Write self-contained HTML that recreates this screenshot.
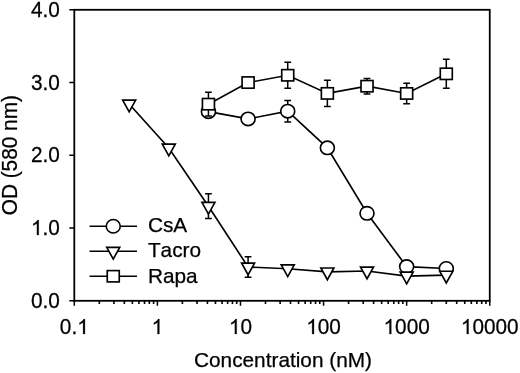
<!DOCTYPE html>
<html><head><meta charset="utf-8"><title>OD vs Concentration</title>
<style>
html,body{margin:0;padding:0;background:#fff;}
svg{display:block;will-change:transform;transform:translateZ(0);}
text{font-family:"Liberation Sans",sans-serif;font-size:20.8px;fill:#000;stroke:#000;stroke-width:0.25px;font-kerning:none;}
.h{fill:none;stroke:none;}
.one{fill:#000;stroke:#000;stroke-width:26;}
</style></head><body>
<svg width="520" height="373" viewBox="0 0 520 373">
<rect width="520" height="373" fill="#fff"/>
<polyline fill="none" stroke="#000" stroke-width="1.65" points="208.44,111.65 248.08,118.93 287.73,111.21 327.37,147.81 367.02,213.28 406.66,266.61 446.30,268.50"/>
<path fill="none" stroke="#000" stroke-width="1.5" d="M287.73 100.45V121.98M284.33 100.45h6.8M284.33 121.98h6.8"/>
<ellipse cx="208.44" cy="111.65" rx="7.0" ry="6.72" fill="#fff" stroke="#000" stroke-width="1.65"/>
<ellipse cx="248.08" cy="118.93" rx="7.0" ry="6.72" fill="#fff" stroke="#000" stroke-width="1.65"/>
<ellipse cx="287.73" cy="111.21" rx="7.0" ry="6.72" fill="#fff" stroke="#000" stroke-width="1.65"/>
<ellipse cx="327.37" cy="147.81" rx="7.0" ry="6.72" fill="#fff" stroke="#000" stroke-width="1.65"/>
<ellipse cx="367.02" cy="213.28" rx="7.0" ry="6.72" fill="#fff" stroke="#000" stroke-width="1.65"/>
<ellipse cx="406.66" cy="266.61" rx="7.0" ry="6.72" fill="#fff" stroke="#000" stroke-width="1.65"/>
<ellipse cx="446.30" cy="268.50" rx="7.0" ry="6.72" fill="#fff" stroke="#000" stroke-width="1.65"/>
<polyline fill="none" stroke="#000" stroke-width="1.65" points="129.15,104.01 168.80,148.03 208.44,206.23 248.08,266.97 287.73,268.79 327.37,271.92 367.02,270.97 406.66,276.06 446.30,275.19"/>
<path fill="none" stroke="#000" stroke-width="1.5" d="M208.44 193.86V218.59M205.04 193.86h6.8M205.04 218.59h6.8"/>
<path fill="none" stroke="#000" stroke-width="1.5" d="M248.08 256.79V277.16M244.68 256.79h6.8M244.68 277.16h6.8"/>
<path d="M122.65 100.11h13.0l-6.5 11.7z" fill="#fff" stroke="#000" stroke-width="1.65"/>
<path d="M162.30 144.12h13.0l-6.5 11.7z" fill="#fff" stroke="#000" stroke-width="1.65"/>
<path d="M201.94 202.33h13.0l-6.5 11.7z" fill="#fff" stroke="#000" stroke-width="1.65"/>
<path d="M241.58 263.07h13.0l-6.5 11.7z" fill="#fff" stroke="#000" stroke-width="1.65"/>
<path d="M281.23 264.89h13.0l-6.5 11.7z" fill="#fff" stroke="#000" stroke-width="1.65"/>
<path d="M320.87 268.02h13.0l-6.5 11.7z" fill="#fff" stroke="#000" stroke-width="1.65"/>
<path d="M360.52 267.07h13.0l-6.5 11.7z" fill="#fff" stroke="#000" stroke-width="1.65"/>
<path d="M400.16 272.17h13.0l-6.5 11.7z" fill="#fff" stroke="#000" stroke-width="1.65"/>
<path d="M439.80 271.29h13.0l-6.5 11.7z" fill="#fff" stroke="#000" stroke-width="1.65"/>
<polyline fill="none" stroke="#000" stroke-width="1.65" points="208.44,104.16 248.08,82.55 287.73,75.28 327.37,93.39 367.02,86.19 406.66,93.46 446.30,73.82"/>
<path fill="none" stroke="#000" stroke-width="1.5" d="M208.44 92.37V115.94M205.04 92.37h6.8M205.04 115.94h6.8"/>
<path fill="none" stroke="#000" stroke-width="1.5" d="M287.73 62.18V88.37M284.33 62.18h6.8M284.33 88.37h6.8"/>
<path fill="none" stroke="#000" stroke-width="1.5" d="M327.37 80.29V106.48M323.97 80.29h6.8M323.97 106.48h6.8"/>
<path fill="none" stroke="#000" stroke-width="1.5" d="M367.02 78.48V93.90M363.62 78.48h6.8M363.62 93.90h6.8"/>
<path fill="none" stroke="#000" stroke-width="1.5" d="M406.66 83.13V103.79M403.26 83.13h6.8M403.26 103.79h6.8"/>
<path fill="none" stroke="#000" stroke-width="1.5" d="M446.30 59.27V88.37M442.90 59.27h6.8M442.90 88.37h6.8"/>
<rect x="202.44" y="98.51" width="12.0" height="11.3" fill="#fff" stroke="#000" stroke-width="1.65"/>
<rect x="242.08" y="76.90" width="12.0" height="11.3" fill="#fff" stroke="#000" stroke-width="1.65"/>
<rect x="281.73" y="69.62" width="12.0" height="11.3" fill="#fff" stroke="#000" stroke-width="1.65"/>
<rect x="321.37" y="87.74" width="12.0" height="11.3" fill="#fff" stroke="#000" stroke-width="1.65"/>
<rect x="361.02" y="80.54" width="12.0" height="11.3" fill="#fff" stroke="#000" stroke-width="1.65"/>
<rect x="400.66" y="87.81" width="12.0" height="11.3" fill="#fff" stroke="#000" stroke-width="1.65"/>
<rect x="440.30" y="68.17" width="12.0" height="11.3" fill="#fff" stroke="#000" stroke-width="1.65"/>
<rect x="74.30" y="9.80" width="415.45" height="291.00" fill="none" stroke="#000" stroke-width="1.8"/>
<path d="M69.30 300.80H74.30M69.30 228.05H74.30M69.30 155.30H74.30M69.30 82.55H74.30M69.30 9.80H74.30M74.30 300.80V305.80M157.39 300.80V305.80M240.48 300.80V305.80M323.57 300.80V305.80M406.66 300.80V305.80M489.75 300.80V305.80" stroke="#000" stroke-width="1.5" fill="none"/>
<path d="M99.31 300.80V304.10M113.94 300.80V304.10M124.33 300.80V304.10M132.38 300.80V304.10M138.96 300.80V304.10M144.52 300.80V304.10M149.34 300.80V304.10M153.59 300.80V304.10M182.40 300.80V304.10M197.03 300.80V304.10M207.42 300.80V304.10M215.47 300.80V304.10M222.05 300.80V304.10M227.61 300.80V304.10M232.43 300.80V304.10M236.68 300.80V304.10M265.49 300.80V304.10M280.12 300.80V304.10M290.51 300.80V304.10M298.56 300.80V304.10M305.14 300.80V304.10M310.70 300.80V304.10M315.52 300.80V304.10M319.77 300.80V304.10M348.58 300.80V304.10M363.21 300.80V304.10M373.60 300.80V304.10M381.65 300.80V304.10M388.23 300.80V304.10M393.79 300.80V304.10M398.61 300.80V304.10M402.86 300.80V304.10M431.67 300.80V304.10M446.30 300.80V304.10M456.69 300.80V304.10M464.74 300.80V304.10M471.32 300.80V304.10M476.88 300.80V304.10M481.70 300.80V304.10M485.95 300.80V304.10" stroke="#000" stroke-width="1.6" fill="none"/>
<path d="M89.5 226.25H137" stroke="#000" stroke-width="1.65"/>
<ellipse cx="113.25" cy="226.25" rx="7.0" ry="6.72" fill="#fff" stroke="#000" stroke-width="1.65"/>
<path d="M89.5 251.25H137" stroke="#000" stroke-width="1.65"/>
<path d="M106.75 247.35h13.0l-6.5 11.7z" fill="#fff" stroke="#000" stroke-width="1.65"/>
<path d="M89.5 276.25H137" stroke="#000" stroke-width="1.65"/>
<rect x="107.25" y="270.60" width="12.0" height="11.3" fill="#fff" stroke="#000" stroke-width="1.65"/>
<text transform="translate(59.90,307.75) scale(1.000,1.030)" text-anchor="end">0.0</text>
<path class="one" transform="translate(30.99,235.00) scale(0.01016,-0.01016)" d="M763 0H583V1147Q518 1085 412.5 1023T223 930V1104Q374 1175 487 1276T647 1472H763Z"/>
<text transform="translate(59.90,235.00) scale(1.000,1.030)" text-anchor="end"><tspan class="h">1</tspan>.0</text>
<text transform="translate(59.90,162.25) scale(1.000,1.030)" text-anchor="end">2.0</text>
<text transform="translate(59.90,89.50) scale(1.000,1.030)" text-anchor="end">3.0</text>
<text transform="translate(59.90,16.75) scale(1.000,1.030)" text-anchor="end">4.0</text>
<path class="one" transform="translate(77.19,334.00) scale(0.01016,-0.01016)" d="M763 0H583V1147Q518 1085 412.5 1023T223 930V1104Q374 1175 487 1276T647 1472H763Z"/>
<text transform="translate(74.30,334.00) scale(1.000,1.030)" text-anchor="middle">0.<tspan class="h">1</tspan></text>
<path class="one" transform="translate(151.61,334.00) scale(0.01016,-0.01016)" d="M763 0H583V1147Q518 1085 412.5 1023T223 930V1104Q374 1175 487 1276T647 1472H763Z"/>
<text transform="translate(157.39,334.00) scale(1.000,1.030)" text-anchor="middle"><tspan class="h">1</tspan></text>
<path class="one" transform="translate(228.92,334.00) scale(0.01016,-0.01016)" d="M763 0H583V1147Q518 1085 412.5 1023T223 930V1104Q374 1175 487 1276T647 1472H763Z"/>
<text transform="translate(240.48,334.00) scale(1.000,1.030)" text-anchor="middle"><tspan class="h">1</tspan>0</text>
<path class="one" transform="translate(306.22,334.00) scale(0.01016,-0.01016)" d="M763 0H583V1147Q518 1085 412.5 1023T223 930V1104Q374 1175 487 1276T647 1472H763Z"/>
<text transform="translate(323.57,334.00) scale(1.000,1.030)" text-anchor="middle"><tspan class="h">1</tspan>00</text>
<path class="one" transform="translate(383.53,334.00) scale(0.01016,-0.01016)" d="M763 0H583V1147Q518 1085 412.5 1023T223 930V1104Q374 1175 487 1276T647 1472H763Z"/>
<text transform="translate(406.66,334.00) scale(1.000,1.030)" text-anchor="middle"><tspan class="h">1</tspan>000</text>
<path class="one" transform="translate(460.84,334.00) scale(0.01016,-0.01016)" d="M763 0H583V1147Q518 1085 412.5 1023T223 930V1104Q374 1175 487 1276T647 1472H763Z"/>
<text transform="translate(489.75,334.00) scale(1.000,1.030)" text-anchor="middle"><tspan class="h">1</tspan>0000</text>
<text transform="translate(283.00,367.30) scale(1.000,1.000)" text-anchor="middle">Concentration (nM)</text>
<text transform="translate(17.20,155.20) scale(1.030,1) rotate(-90)" text-anchor="middle">OD (580 nm)</text>
<text transform="translate(147.90,232.40) scale(1.000,1.000)" text-anchor="start">CsA</text>
<text transform="translate(147.90,257.40) scale(1.000,1.000)" text-anchor="start">Tacro</text>
<text transform="translate(147.90,283.00) scale(1.000,1.000)" text-anchor="start">Rapa</text>
</svg>
</body></html>
